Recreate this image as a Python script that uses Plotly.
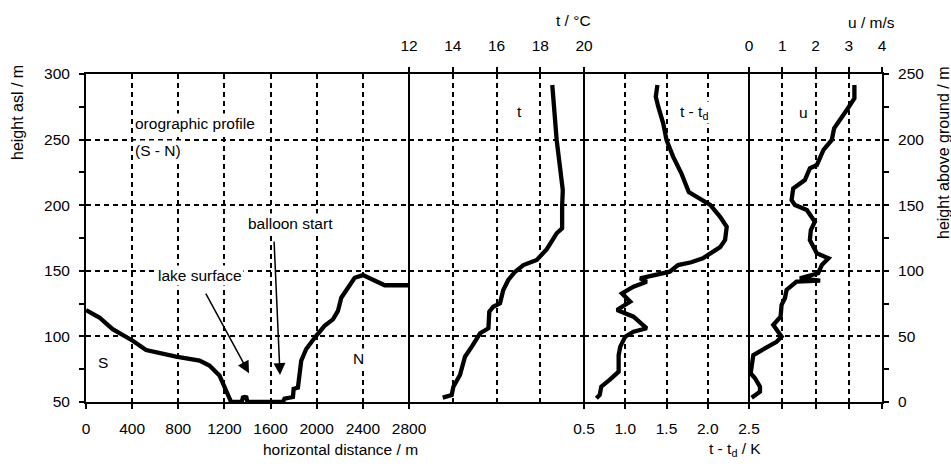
import plotly.graph_objects as go

# ---------------- data ----------------
# orographic profile (S - N): horizontal distance / m, height asl / m
oro_x = [0, 116, 231, 405, 521, 781, 984, 1070, 1157, 1201, 1244, 1258, 1350, 1360, 1374, 1390, 1400,
         1707, 1721, 1794, 1800, 1837, 1866, 1909, 1996, 2068, 2141, 2184, 2213, 2271, 2329, 2401,
         2488, 2589, 2800]
oro_h = [120, 114.4, 105.5, 96.7, 89.6, 84.6, 81.6, 77.8, 70.2, 61.4, 52.5, 50, 50, 53.5, 53.8, 53.5, 50,
         50, 52.5, 53.8, 60, 61, 81.6, 90.4, 100.5, 108, 113, 119.4, 129.5, 137, 144.7, 146.7,
         143.4, 139, 139]

# temperature profile: t / degC vs height above ground / m
t_val = [18.55, 18.63, 18.75, 18.9, 19.03, 19.0, 19.0, 18.75, 18.5, 18.3, 17.84, 17.23, 16.85,
         16.54, 16.31, 16.16, 15.85, 15.67, 15.63, 15.25, 14.87, 14.56, 14.33, 14.03, 13.95, 13.54]
t_agl = [241.6, 222.6, 199.7, 179.3, 161.6, 148.9, 132.4, 128.6, 122.2, 116.5, 108.2, 104.4, 99.3,
         93, 85.4, 75.2, 72.6, 68.8, 56.2, 52.4, 42.2, 34.5, 20.6, 11.7, 5.3, 3.3]

# dew point spread profile: t - td / K vs height above ground / m
dd_val = [1.39, 1.37, 1.40, 1.46, 1.50, 1.58, 1.68, 1.77, 2.03, 2.15, 2.23, 2.21, 2.15, 2.07, 1.94,
          1.80, 1.64, 1.54, 1.30, 1.18, 1.26, 1.10, 0.96, 1.06, 0.90, 1.10, 1.26, 1.10, 1.00,
          0.94, 0.92, 0.92, 0.81, 0.71, 0.69, 0.65]
dd_agl = [241.6, 232.7, 225.1, 212.4, 199.7, 187, 174.3, 160, 150.2, 141.2, 133.6, 123.5, 118, 114.6, 109.5,
          106.5, 104.4, 99.3, 95.5, 94.3, 91.7, 87.9, 82.8, 76.5, 70.1, 65, 56.2, 53.6, 49.8,
          42.2, 35.8, 23.1, 16.8, 11.7, 5.3, 2.8]

# wind speed profile: u / m/s vs height above ground / m
u_val = [3.17, 3.17, 2.94, 2.64, 2.56, 2.49, 2.24, 2.04, 1.83, 1.68, 1.33, 1.28, 1.38, 1.74, 1.98,
         1.86, 1.83, 2.04, 2.39, 2.19, 2.08, 1.53, 2.14, 1.43, 1.13, 1.08, 0.98, 0.95, 0.73,
         0.98, 0.83, 0.13, 0.05, 0.18, 0.33, 0.33, 0.08]
u_agl = [241.6, 231.4, 222.6, 212.4, 208.6, 199.7, 192.1, 180.6, 178.1, 169.2, 162.8, 153.9, 150.2,
         146.3, 137.4, 131.1, 123.5, 113.3, 109.5, 104.4, 98.1, 94.3, 92.5, 91.7, 85.4, 79.1, 74,
         65, 58.7, 49.8, 45.9, 35.8, 21.9, 18.1, 11.7, 7.9, 3.3]

dist_ticks = [0, 400, 800, 1200, 1600, 2000, 2400, 2800]
t_ticks = [12, 14, 16, 18, 20]
dd_ticks = [0.5, 1.0, 1.5, 2.0, 2.5]
u_ticks = [0, 1, 2, 3, 4]

# ---------------- layout geometry ----------------
W, H = 951, 466
L, R, T, B = 86, 69, 74, 64
PW, PH = W - L - R, H - T - B
edges_px = [86, 409, 584, 749, 882]
dom = [(e - L) / PW for e in edges_px]


def pxx(x):
    return (x - L) / PW


def pxy(y):
    return (H - B - y) / PH


FONT = "Liberation Sans, Arial, sans-serif"
FS = 15.5
LINE = dict(color="black", width=4.3)

fig = go.Figure()
fig.add_trace(go.Scatter(x=oro_x, y=oro_h, mode="lines", line=LINE, xaxis="x", yaxis="y"))
fig.add_trace(go.Scatter(x=t_val, y=t_agl, mode="lines", line=LINE, xaxis="x2", yaxis="y2"))
fig.add_trace(go.Scatter(x=dd_val, y=dd_agl, mode="lines", line=LINE, xaxis="x3", yaxis="y2"))
fig.add_trace(go.Scatter(x=u_val, y=u_agl, mode="lines", line=LINE, xaxis="x4", yaxis="y2"))

grid = dict(showgrid=True, gridcolor="black", gridwidth=1.5, griddash="5px,4px", zeroline=False,
            showline=True, linecolor="black", linewidth=2, tickcolor="black", tickwidth=1.5,
            ticklen=5, automargin=False, tickfont=dict(family=FONT, size=FS, color="black"))

fig.update_layout(
    width=W, height=H, margin=dict(l=L, r=R, t=T, b=B, pad=0),
    paper_bgcolor="white", plot_bgcolor="white", showlegend=False,
    font=dict(family=FONT, size=FS, color="black"),
    xaxis=dict(domain=[dom[0], dom[1]], range=[0, 2800], tickvals=dist_ticks, side="bottom",
               anchor="y", ticks="outside", mirror=True, ticklabelstandoff=6, **grid),
    xaxis2=dict(domain=[dom[1], dom[2]], range=[12, 20], tickvals=t_ticks, side="top",
                anchor="y2", ticks="outside", mirror=True, ticklabelstandoff=10, **grid),
    xaxis3=dict(domain=[dom[2], dom[3]], range=[0.5, 2.5], tickvals=dd_ticks, tickformat=".1f",
                side="bottom", anchor="y2", ticks="outside", mirror=True, ticklabelstandoff=6, **grid),
    xaxis4=dict(domain=[dom[3], dom[4]], range=[0, 4], tickvals=u_ticks, side="top",
                anchor="y2", ticks="outside", mirror="ticks", ticklabelstandoff=10, **grid),
    yaxis=dict(domain=[0, 1], range=[50, 300], dtick=50, tick0=0, side="left", anchor="x",
               ticks="outside", ticklabelstandoff=6,
               minor=dict(dtick=25, ticks="outside", ticklen=5, tickcolor="black", tickwidth=1.5,
                          showgrid=False), **grid),
    yaxis2=dict(domain=[0, 1], range=[0, 250], dtick=50, tick0=0, side="right", anchor="x4",
                overlaying="y", ticks="outside", ticklabelstandoff=6,
                minor=dict(dtick=25, ticks="outside", ticklen=5, tickcolor="black", tickwidth=1.5,
                           showgrid=False), **grid),
)

# panel separators
shapes = []
for d in dom[1:4]:
    shapes.append(dict(type="line", xref="paper", yref="paper", x0=d, x1=d, y0=0, y1=1,
                       line=dict(color="black", width=2), layer="above"))
fig.update_layout(shapes=shapes)


def txt(text, x, y, size=FS, angle=0, xanchor="center", bg=None):
    d = dict(text=text, x=pxx(x), y=pxy(y), xref="paper", yref="paper", showarrow=False,
             xanchor=xanchor, yanchor="middle", textangle=angle,
             font=dict(family=FONT, size=size, color="black"))
    if bg:
        d["bgcolor"] = bg
        d["borderpad"] = 1
    return d


ann = [
    txt("height asl / m", 17, 113, size=16, angle=-90),
    txt("height above ground / m", 943, 153, size=16, angle=-90),
    txt("horizontal distance / m", 340, 449),
    txt("t - t<sub>d</sub> / K", 735, 450),
    txt("t / °C", 573, 20),
    txt("u / m/s", 871, 22),
    txt("orographic profile", 133, 123, xanchor="left", bg="white"),
    txt("(S - N)", 133, 150, xanchor="left", bg="white"),
    txt("balloon start", 246, 223, xanchor="left", bg="white"),
    txt("lake surface", 156, 275, xanchor="left", bg="white"),
    txt("S", 103, 362, bg="white"),
    txt("N", 358, 358, bg="white"),
    txt("t", 519, 111, bg="white"),
    txt("t - t<sub>d</sub>", 694, 112, bg="white"),
    txt("u", 803, 112, bg="white"),
]
# arrows (head at data coordinates, tail offset in pixels)
ann.append(dict(x=1413, y=72, xref="x", yref="y", ax=-44, ay=-81, text="", showarrow=True,
                arrowhead=2, arrowsize=1.6, arrowwidth=1.5, arrowcolor="black"))
ann.append(dict(x=1682, y=70.5, xref="x", yref="y", ax=-6, ay=-135, text="", showarrow=True,
                arrowhead=2, arrowsize=1.6, arrowwidth=1.5, arrowcolor="black"))
fig.update_layout(annotations=ann)

fig.write_html("out.html")
